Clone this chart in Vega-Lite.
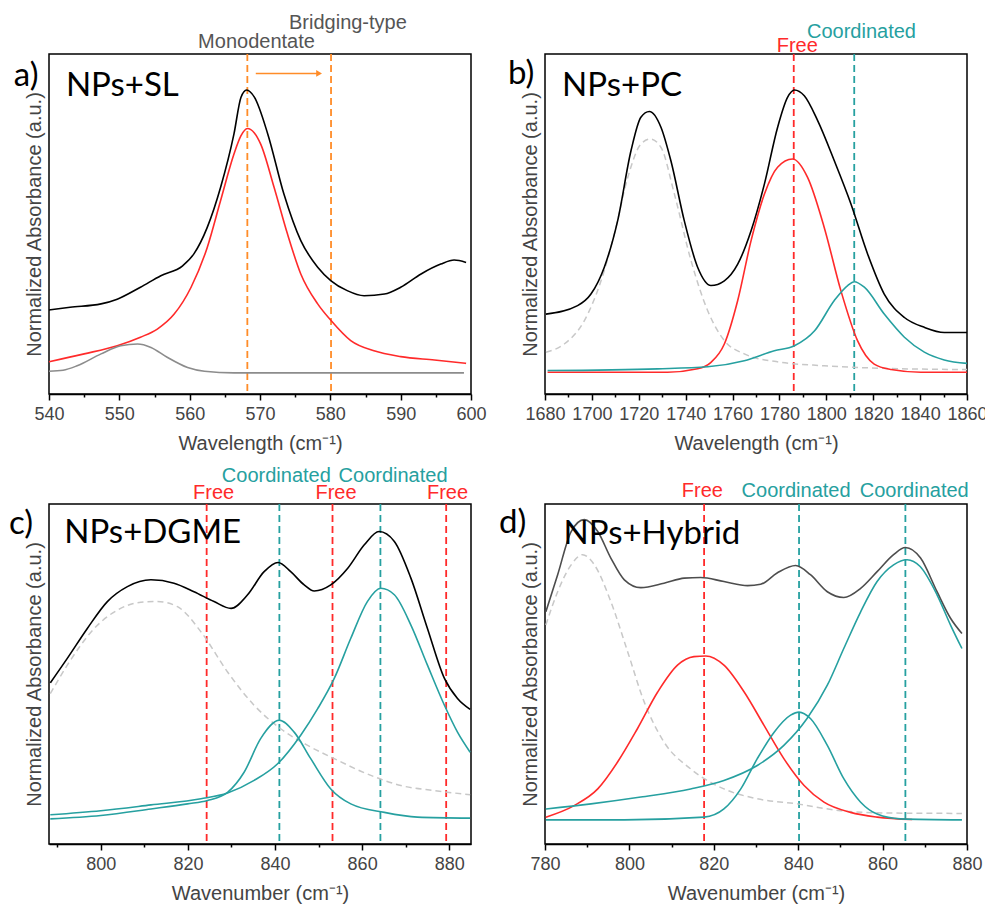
{
"$schema":"https://vega.github.io/schema/vega-lite/v6.json",
"background":"white",
"padding":{"left":8,"top":12,"right":0,"bottom":0},
"columns":2,
"bounds":"flush",
"spacing":{"row":110,"column":74},
"config":{
 "view":{"stroke":"#000","strokeWidth":1.5},
 "font":"Arial",
 "axis":{"labelFont":"Arial","titleFont":"Arial","labelFontSize":18,"titleFontSize":20,"labelColor":"#444","titleColor":"#444","titleFontWeight":"normal","domainColor":"#000","tickColor":"#000","grid":false,"domainWidth":1.5,"tickWidth":1.5},
 "line":{"strokeWidth":1.6},
 "text":{"font":"Arial"}
},
"datasets":{
 "a_c":[
  {"c":"total","id":"t","x":540,"y":0.247},{"c":"total","id":"t","x":543,"y":0.255},{"c":"total","id":"t","x":547.4,"y":0.265},{"c":"total","id":"t","x":549.7,"y":0.279},{"c":"total","id":"t","x":553,"y":0.314},{"c":"total","id":"t","x":555.9,"y":0.348},{"c":"total","id":"t","x":559,"y":0.377},{"c":"total","id":"t","x":560.6,"y":0.412},{"c":"total","id":"t","x":562.5,"y":0.49},{"c":"total","id":"t","x":564.4,"y":0.608},{"c":"total","id":"t","x":566.3,"y":0.765},{"c":"total","id":"t","x":567.3,"y":0.873},{"c":"total","id":"t","x":568.1,"y":0.894},{"c":"total","id":"t","x":569.2,"y":0.873},{"c":"total","id":"t","x":571.1,"y":0.765},{"c":"total","id":"t","x":573.4,"y":0.588},{"c":"total","id":"t","x":575.8,"y":0.451},{"c":"total","id":"t","x":578.2,"y":0.373},{"c":"total","id":"t","x":580.1,"y":0.333},{"c":"total","id":"t","x":582.4,"y":0.304},{"c":"total","id":"t","x":584.8,"y":0.289},{"c":"total","id":"t","x":587.7,"y":0.294},{"c":"total","id":"t","x":590,"y":0.314},{"c":"total","id":"t","x":592.9,"y":0.353},{"c":"total","id":"t","x":595.7,"y":0.382},{"c":"total","id":"t","x":597.6,"y":0.394},{"c":"total","id":"t","x":599.3,"y":0.387},
  {"c":"red","id":"r","x":540,"y":0.095},{"c":"red","id":"r","x":545,"y":0.118},{"c":"red","id":"r","x":549.7,"y":0.142},{"c":"red","id":"r","x":553,"y":0.167},{"c":"red","id":"r","x":555.4,"y":0.191},{"c":"red","id":"r","x":557.8,"y":0.235},{"c":"red","id":"r","x":560.2,"y":0.314},{"c":"red","id":"r","x":562.5,"y":0.431},{"c":"red","id":"r","x":564.4,"y":0.569},{"c":"red","id":"r","x":566.3,"y":0.706},{"c":"red","id":"r","x":567.3,"y":0.76},{"c":"red","id":"r","x":568.2,"y":0.781},{"c":"red","id":"r","x":569.2,"y":0.768},{"c":"red","id":"r","x":570.1,"y":0.735},{"c":"red","id":"r","x":572,"y":0.608},{"c":"red","id":"r","x":573.9,"y":0.471},{"c":"red","id":"r","x":575.8,"y":0.353},{"c":"red","id":"r","x":578.2,"y":0.265},{"c":"red","id":"r","x":580.1,"y":0.216},{"c":"red","id":"r","x":582.9,"y":0.157},{"c":"red","id":"r","x":586.2,"y":0.127},{"c":"red","id":"r","x":590,"y":0.11},{"c":"red","id":"r","x":594.8,"y":0.1},{"c":"red","id":"r","x":599.3,"y":0.09},
  {"c":"sub","id":"g","x":540,"y":0.067},{"c":"sub","id":"g","x":542,"y":0.07},{"c":"sub","id":"g","x":544,"y":0.083},{"c":"sub","id":"g","x":547.4,"y":0.118},{"c":"sub","id":"g","x":550.2,"y":0.142},{"c":"sub","id":"g","x":552.6,"y":0.147},{"c":"sub","id":"g","x":554.5,"y":0.137},{"c":"sub","id":"g","x":556.8,"y":0.108},{"c":"sub","id":"g","x":559.7,"y":0.078},{"c":"sub","id":"g","x":562.1,"y":0.067},{"c":"sub","id":"g","x":566.3,"y":0.062},{"c":"sub","id":"g","x":599,"y":0.062}
 ],
 "a_v":[{"c":"orange","x":568.2},{"c":"orange","x":580.1}],
 "a_arrow":[{"c":"orange","x":569.4,"x2":578.4,"y":0.943}],
 "a_head":[{"c":"orange","x":578.4,"y":0.943}],
 "a_t":[{"c":"gray","x":569.5,"y":1.035,"t":"Monodentate"},{"c":"gray","x":582.5,"y":1.09,"t":"Bridging-type"}],
 "a_b":[{"c":"total","x":542.4,"y":0.907,"t":"NPs+SL"},{"c":"total","x":535.0,"y":0.935,"t":"a)"}],
 "b_c":[
  {"c":"total","id":"t","x":1680.4,"y":0.235},{"c":"total","id":"t","x":1693.9,"y":0.26},{"c":"total","id":"t","x":1699.6,"y":0.294},{"c":"total","id":"t","x":1705.3,"y":0.373},{"c":"total","id":"t","x":1711,"y":0.51},{"c":"total","id":"t","x":1716.7,"y":0.716},{"c":"total","id":"t","x":1720.9,"y":0.814},{"c":"total","id":"t","x":1724.5,"y":0.831},{"c":"total","id":"t","x":1729.5,"y":0.784},{"c":"total","id":"t","x":1733.7,"y":0.686},{"c":"total","id":"t","x":1739.4,"y":0.51},{"c":"total","id":"t","x":1745.1,"y":0.373},{"c":"total","id":"t","x":1750.8,"y":0.319},{"c":"total","id":"t","x":1756.5,"y":0.333},{"c":"total","id":"t","x":1762.2,"y":0.382},{"c":"total","id":"t","x":1767.9,"y":0.48},{"c":"total","id":"t","x":1773.6,"y":0.618},{"c":"total","id":"t","x":1779.2,"y":0.784},{"c":"total","id":"t","x":1783.5,"y":0.873},{"c":"total","id":"t","x":1786.4,"y":0.894},{"c":"total","id":"t","x":1790.6,"y":0.877},{"c":"total","id":"t","x":1796.3,"y":0.804},{"c":"total","id":"t","x":1803.4,"y":0.686},{"c":"total","id":"t","x":1810.5,"y":0.559},{"c":"total","id":"t","x":1817.6,"y":0.412},{"c":"total","id":"t","x":1824.7,"y":0.294},{"c":"total","id":"t","x":1833.3,"y":0.225},{"c":"total","id":"t","x":1841.8,"y":0.196},{"c":"total","id":"t","x":1850.3,"y":0.181},{"c":"total","id":"t","x":1860,"y":0.181},
  {"c":"red","id":"r","x":1681.1,"y":0.064},{"c":"red","id":"r","x":1732.3,"y":0.064},{"c":"red","id":"r","x":1745.1,"y":0.074},{"c":"red","id":"r","x":1750.8,"y":0.093},{"c":"red","id":"r","x":1756.5,"y":0.147},{"c":"red","id":"r","x":1762.2,"y":0.275},{"c":"red","id":"r","x":1767.9,"y":0.451},{"c":"red","id":"r","x":1773.6,"y":0.588},{"c":"red","id":"r","x":1779.2,"y":0.667},{"c":"red","id":"r","x":1785.6,"y":0.691},{"c":"red","id":"r","x":1792,"y":0.637},{"c":"red","id":"r","x":1799.1,"y":0.49},{"c":"red","id":"r","x":1806.2,"y":0.304},{"c":"red","id":"r","x":1813.3,"y":0.157},{"c":"red","id":"r","x":1820.4,"y":0.088},{"c":"red","id":"r","x":1827.6,"y":0.072},{"c":"red","id":"r","x":1840.3,"y":0.064},{"c":"red","id":"r","x":1860,"y":0.064},
  {"c":"teal","id":"k","x":1681.1,"y":0.069},{"c":"teal","id":"k","x":1728.1,"y":0.074},{"c":"teal","id":"k","x":1749.4,"y":0.08},{"c":"teal","id":"k","x":1765,"y":0.098},{"c":"teal","id":"k","x":1777.8,"y":0.127},{"c":"teal","id":"k","x":1786.4,"y":0.142},{"c":"teal","id":"k","x":1795,"y":0.186},{"c":"teal","id":"k","x":1803.4,"y":0.275},{"c":"teal","id":"k","x":1809.1,"y":0.319},{"c":"teal","id":"k","x":1811.9,"y":0.33},{"c":"teal","id":"k","x":1816.2,"y":0.314},{"c":"teal","id":"k","x":1824.7,"y":0.235},{"c":"teal","id":"k","x":1833.3,"y":0.167},{"c":"teal","id":"k","x":1841.8,"y":0.123},{"c":"teal","id":"k","x":1850.3,"y":0.1},{"c":"teal","id":"k","x":1860,"y":0.09}
 ],
 "b_d":[
  {"c":"bg","x":1680.4,"y":0.123},{"c":"bg","x":1688.2,"y":0.147},{"c":"bg","x":1696.8,"y":0.216},{"c":"bg","x":1703.9,"y":0.333},{"c":"bg","x":1709.6,"y":0.471},{"c":"bg","x":1715.3,"y":0.637},{"c":"bg","x":1720.9,"y":0.735},{"c":"bg","x":1724.9,"y":0.75},{"c":"bg","x":1729.5,"y":0.725},{"c":"bg","x":1735.2,"y":0.588},{"c":"bg","x":1742.3,"y":0.392},{"c":"bg","x":1749.4,"y":0.245},{"c":"bg","x":1756.5,"y":0.157},{"c":"bg","x":1765,"y":0.118},{"c":"bg","x":1777.8,"y":0.096},{"c":"bg","x":1799.1,"y":0.083},{"c":"bg","x":1827.6,"y":0.075},{"c":"bg","x":1860,"y":0.072}
 ],
 "b_v":[{"c":"red","x":1786.1},{"c":"teal","x":1811.9}],
 "b_t":[{"c":"red","x":1787.6,"y":1.024,"t":"Free"},{"c":"teal","x":1815,"y":1.065,"t":"Coordinated"}],
 "b_b":[{"c":"total","x":1687.3,"y":0.907,"t":"NPs+PC"},{"c":"total","x":1664.2,"y":0.94,"t":"b)"}],
 "c_c":[
  {"c":"total","id":"t","x":788.4,"y":0.474},{"c":"total","id":"t","x":792.3,"y":0.546},{"c":"total","id":"t","x":796.9,"y":0.634},{"c":"total","id":"t","x":801.5,"y":0.713},{"c":"total","id":"t","x":806.1,"y":0.757},{"c":"total","id":"t","x":811.5,"y":0.777},{"c":"total","id":"t","x":816.8,"y":0.767},{"c":"total","id":"t","x":821.4,"y":0.742},{"c":"total","id":"t","x":826,"y":0.713},{"c":"total","id":"t","x":829.9,"y":0.693},{"c":"total","id":"t","x":833.7,"y":0.733},{"c":"total","id":"t","x":837.5,"y":0.801},{"c":"total","id":"t","x":840.7,"y":0.828},{"c":"total","id":"t","x":843.6,"y":0.801},{"c":"total","id":"t","x":846.7,"y":0.762},{"c":"total","id":"t","x":849,"y":0.744},{"c":"total","id":"t","x":852.8,"y":0.762},{"c":"total","id":"t","x":856.7,"y":0.811},{"c":"total","id":"t","x":860.5,"y":0.88},{"c":"total","id":"t","x":863.9,"y":0.919},{"c":"total","id":"t","x":867.4,"y":0.89},{"c":"total","id":"t","x":871.2,"y":0.782},{"c":"total","id":"t","x":875,"y":0.634},{"c":"total","id":"t","x":878.9,"y":0.487},{"c":"total","id":"t","x":881.9,"y":0.428},{"c":"total","id":"t","x":884.8,"y":0.396},
  {"c":"teal","id":"k1","x":788.4,"y":0.074},{"c":"teal","id":"k1","x":800,"y":0.084},{"c":"teal","id":"k1","x":811.5,"y":0.103},{"c":"teal","id":"k1","x":819.9,"y":0.118},{"c":"teal","id":"k1","x":824.5,"y":0.128},{"c":"teal","id":"k1","x":829.1,"y":0.152},{"c":"teal","id":"k1","x":832.9,"y":0.211},{"c":"teal","id":"k1","x":836.7,"y":0.31},{"c":"teal","id":"k1","x":841,"y":0.364},{"c":"teal","id":"k1","x":844.4,"y":0.329},{"c":"teal","id":"k1","x":848.2,"y":0.251},{"c":"teal","id":"k1","x":852.8,"y":0.162},{"c":"teal","id":"k1","x":857.4,"y":0.118},{"c":"teal","id":"k1","x":865.1,"y":0.093},{"c":"teal","id":"k1","x":872.7,"y":0.079},{"c":"teal","id":"k1","x":884.8,"y":0.076},
  {"c":"teal","id":"k2","x":788.4,"y":0.086},{"c":"teal","id":"k2","x":800,"y":0.098},{"c":"teal","id":"k2","x":811.5,"y":0.115},{"c":"teal","id":"k2","x":823,"y":0.133},{"c":"teal","id":"k2","x":829.1,"y":0.15},{"c":"teal","id":"k2","x":835.2,"y":0.187},{"c":"teal","id":"k2","x":840.6,"y":0.236},{"c":"teal","id":"k2","x":845.9,"y":0.32},{"c":"teal","id":"k2","x":849.8,"y":0.398},{"c":"teal","id":"k2","x":853.6,"y":0.487},{"c":"teal","id":"k2","x":857.4,"y":0.605},{"c":"teal","id":"k2","x":861.2,"y":0.713},{"c":"teal","id":"k2","x":864.3,"y":0.752},{"c":"teal","id":"k2","x":867.4,"y":0.733},{"c":"teal","id":"k2","x":871.2,"y":0.644},{"c":"teal","id":"k2","x":875,"y":0.526},{"c":"teal","id":"k2","x":878.9,"y":0.408},{"c":"teal","id":"k2","x":881.9,"y":0.329},{"c":"teal","id":"k2","x":884.8,"y":0.27}
 ],
 "c_d":[
  {"c":"bg","x":788.4,"y":0.442},{"c":"bg","x":792.3,"y":0.526},{"c":"bg","x":798.5,"y":0.634},{"c":"bg","x":803.8,"y":0.688},{"c":"bg","x":809.2,"y":0.711},{"c":"bg","x":813,"y":0.713},{"c":"bg","x":817.6,"y":0.698},{"c":"bg","x":823,"y":0.624},{"c":"bg","x":829.1,"y":0.506},{"c":"bg","x":835.2,"y":0.408},{"c":"bg","x":841.3,"y":0.339},{"c":"bg","x":847.5,"y":0.29},{"c":"bg","x":853.6,"y":0.251},{"c":"bg","x":861.2,"y":0.206},{"c":"bg","x":868.9,"y":0.172},{"c":"bg","x":876.6,"y":0.157},{"c":"bg","x":884.8,"y":0.145}
 ],
 "c_v":[{"c":"red","x":824.3},{"c":"teal","x":841},{"c":"red","x":853.2},{"c":"teal","x":864.2},{"c":"red","x":879.3}],
 "c_t":[{"c":"red","x":825.9,"y":1.031,"t":"Free"},{"c":"red","x":854,"y":1.031,"t":"Free"},{"c":"red","x":879.6,"y":1.031,"t":"Free"},{"c":"teal","x":840.3,"y":1.083,"t":"Coordinated"},{"c":"teal","x":867.1,"y":1.083,"t":"Coordinated"}],
 "c_b":[{"c":"total","x":791.6,"y":0.916,"t":"NPs+DGME"},{"c":"total","x":778.9,"y":0.941,"t":"c)"}],
 "d_c":[
  {"c":"totald","id":"t","x":780.2,"y":0.683},{"c":"totald","id":"t","x":783,"y":0.792},{"c":"totald","id":"t","x":786.2,"y":0.919},{"c":"totald","id":"t","x":789.3,"y":0.954},{"c":"totald","id":"t","x":792.5,"y":0.919},{"c":"totald","id":"t","x":795.6,"y":0.841},{"c":"totald","id":"t","x":798.8,"y":0.777},{"c":"totald","id":"t","x":802.7,"y":0.754},{"c":"totald","id":"t","x":808.2,"y":0.767},{"c":"totald","id":"t","x":813,"y":0.782},{"c":"totald","id":"t","x":816.9,"y":0.784},{"c":"totald","id":"t","x":822.4,"y":0.772},{"c":"totald","id":"t","x":828,"y":0.76},{"c":"totald","id":"t","x":831.1,"y":0.764},{"c":"totald","id":"t","x":835,"y":0.797},{"c":"totald","id":"t","x":839.4,"y":0.819},{"c":"totald","id":"t","x":842.9,"y":0.792},{"c":"totald","id":"t","x":846.9,"y":0.742},{"c":"totald","id":"t","x":850.8,"y":0.725},{"c":"totald","id":"t","x":854.8,"y":0.752},{"c":"totald","id":"t","x":858.7,"y":0.801},{"c":"totald","id":"t","x":862.6,"y":0.851},{"c":"totald","id":"t","x":865.4,"y":0.872},{"c":"totald","id":"t","x":869,"y":0.841},{"c":"totald","id":"t","x":872.9,"y":0.742},{"c":"totald","id":"t","x":876.1,"y":0.664},{"c":"totald","id":"t","x":878.8,"y":0.619},
  {"c":"red","id":"r","x":780.2,"y":0.079},{"c":"red","id":"r","x":786.9,"y":0.113},{"c":"red","id":"r","x":792.5,"y":0.162},{"c":"red","id":"r","x":797.2,"y":0.241},{"c":"red","id":"r","x":801.9,"y":0.339},{"c":"red","id":"r","x":806.7,"y":0.447},{"c":"red","id":"r","x":811.4,"y":0.526},{"c":"red","id":"r","x":815.3,"y":0.551},{"c":"red","id":"r","x":818.1,"y":0.553},{"c":"red","id":"r","x":822.4,"y":0.526},{"c":"red","id":"r","x":827.2,"y":0.447},{"c":"red","id":"r","x":831.9,"y":0.349},{"c":"red","id":"r","x":836.6,"y":0.251},{"c":"red","id":"r","x":841.4,"y":0.172},{"c":"red","id":"r","x":846.1,"y":0.123},{"c":"red","id":"r","x":852.4,"y":0.093},{"c":"red","id":"r","x":858.7,"y":0.079},{"c":"red","id":"r","x":867,"y":0.072},
  {"c":"teal","id":"k1","x":780.2,"y":0.071},{"c":"teal","id":"k1","x":798.8,"y":0.071},{"c":"teal","id":"k1","x":817.7,"y":0.079},{"c":"teal","id":"k1","x":822.4,"y":0.103},{"c":"teal","id":"k1","x":826.4,"y":0.162},{"c":"teal","id":"k1","x":830.3,"y":0.251},{"c":"teal","id":"k1","x":834.3,"y":0.329},{"c":"teal","id":"k1","x":838.2,"y":0.379},{"c":"teal","id":"k1","x":840.2,"y":0.388},{"c":"teal","id":"k1","x":842.9,"y":0.369},{"c":"teal","id":"k1","x":846.9,"y":0.29},{"c":"teal","id":"k1","x":850.8,"y":0.192},{"c":"teal","id":"k1","x":854.8,"y":0.123},{"c":"teal","id":"k1","x":858.7,"y":0.088},{"c":"teal","id":"k1","x":864.2,"y":0.074},{"c":"teal","id":"k1","x":878.8,"y":0.071},
  {"c":"teal","id":"k2","x":780.2,"y":0.103},{"c":"teal","id":"k2","x":790.9,"y":0.118},{"c":"teal","id":"k2","x":802.7,"y":0.138},{"c":"teal","id":"k2","x":814.5,"y":0.162},{"c":"teal","id":"k2","x":822.4,"y":0.187},{"c":"teal","id":"k2","x":830.3,"y":0.231},{"c":"teal","id":"k2","x":836.6,"y":0.29},{"c":"teal","id":"k2","x":842.1,"y":0.369},{"c":"teal","id":"k2","x":846.9,"y":0.467},{"c":"teal","id":"k2","x":850.8,"y":0.575},{"c":"teal","id":"k2","x":854.8,"y":0.683},{"c":"teal","id":"k2","x":858.7,"y":0.772},{"c":"teal","id":"k2","x":862.6,"y":0.821},{"c":"teal","id":"k2","x":865.8,"y":0.836},{"c":"teal","id":"k2","x":868.9,"y":0.816},{"c":"teal","id":"k2","x":872.9,"y":0.733},{"c":"teal","id":"k2","x":876.1,"y":0.644},{"c":"teal","id":"k2","x":878.8,"y":0.575}
 ],
 "d_d":[
  {"c":"bg","x":780.2,"y":0.644},{"c":"bg","x":783,"y":0.742},{"c":"bg","x":786.2,"y":0.821},{"c":"bg","x":788.9,"y":0.851},{"c":"bg","x":791.7,"y":0.821},{"c":"bg","x":795.6,"y":0.713},{"c":"bg","x":799.6,"y":0.565},{"c":"bg","x":803.5,"y":0.418},{"c":"bg","x":808.2,"y":0.3},{"c":"bg","x":814.5,"y":0.221},{"c":"bg","x":822.4,"y":0.162},{"c":"bg","x":830.3,"y":0.133},{"c":"bg","x":839.8,"y":0.118},{"c":"bg","x":850,"y":0.098},{"c":"bg","x":861.9,"y":0.091},{"c":"bg","x":878.8,"y":0.09}
 ],
 "d_v":[{"c":"red","x":817.7},{"c":"teal","x":840.2},{"c":"teal","x":865.4}],
 "d_t":[{"c":"red","x":817.3,"y":1.039,"t":"Free"},{"c":"teal","x":839.5,"y":1.037,"t":"Coordinated"},{"c":"teal","x":867.5,"y":1.037,"t":"Coordinated"}],
 "d_b":[{"c":"total","x":784.4,"y":0.912,"t":"NPs+Hybrid"},{"c":"total","x":769.1,"y":0.944,"t":"d)"}]
},
"concat":[
 {"width":422,"height":340,
  "encoding":{
   "x":{"field":"x","type":"quantitative","scale":{"domain":[540,600],"nice":false,"zero":false},
      "axis":{"title":"Wavelength (cm⁻¹)","values":[540,545,550,555,560,565,570,575,580,585,590,595,600],"labelExpr":"datum.value % 10 == 0 ? datum.label : ''","tickSize":{"condition":{"test":"datum.value % 10 == 0","value":6},"value":3},"labelPadding":5,"titlePadding":10,"labelOverlap":false,"labelFlush":false}},
   "color":{"field":"c","type":"nominal","legend":null,"scale":{"domain":["total","totald","red","teal","sub","bg","gray","orange"],"range":["#000000","#4d4d4d","#ff2a2a","#26a0a0","#8c8c8c","#c8c8c8","#555555","#ff8c28"]}}
  },
  "layer":[
   {"data":{"name":"a_v"},"mark":{"type":"rule","strokeWidth":1.8,"strokeDash":[7,4]}},
   {"data":{"name":"a_c"},"mark":{"type":"line","interpolate":"monotone"},
    "encoding":{"y":{"field":"y","type":"quantitative","scale":{"domain":[0,1],"nice":false,"zero":false},"axis":{"title":"Normalized Absorbance (a.u.)","labels":false,"ticks":false,"domain":false,"titlePadding":5}},"detail":{"field":"id"}}},
   {"data":{"name":"a_arrow"},"mark":{"type":"rule","strokeWidth":1.5},
    "encoding":{"x2":{"field":"x2"},"y":{"field":"y","type":"quantitative"}}},
   {"data":{"name":"a_head"},"mark":{"type":"point","shape":"triangle-right","filled":true,"size":45,"opacity":1},
    "encoding":{"y":{"field":"y","type":"quantitative"}}},
   {"data":{"name":"a_t"},"mark":{"type":"text","fontSize":20,"font":"Arial","baseline":"middle"},
    "encoding":{"y":{"field":"y","type":"quantitative"},"text":{"field":"t"}}},
   {"data":{"name":"a_b"},"mark":{"type":"text","fontSize":33,"font":"Lato","align":"left","baseline":"middle"},
    "encoding":{"y":{"field":"y","type":"quantitative"},"text":{"field":"t"}}}
  ]},
 {"width":422,"height":340,
  "encoding":{
   "x":{"field":"x","type":"quantitative","scale":{"domain":[1680,1860],"nice":false,"zero":false},
      "axis":{"title":"Wavelength (cm⁻¹)","values":[1680,1690,1700,1710,1720,1730,1740,1750,1760,1770,1780,1790,1800,1810,1820,1830,1840,1850,1860],"labelExpr":"datum.value % 20 == 0 ? datum.label : ''","tickSize":{"condition":{"test":"datum.value % 20 == 0","value":6},"value":3},"labelPadding":5,"titlePadding":10,"labelOverlap":false,"labelFlush":false,"format":"d"}},
   "color":{"field":"c","type":"nominal","legend":null}
  },
  "layer":[
   {"data":{"name":"b_v"},"mark":{"type":"rule","strokeWidth":1.8,"strokeDash":[7,4]}},
   {"data":{"name":"b_d"},"mark":{"type":"line","interpolate":"monotone","strokeDash":[6,4],"strokeWidth":1.5},
    "encoding":{"y":{"field":"y","type":"quantitative","scale":{"domain":[0,1],"nice":false,"zero":false},"axis":{"title":"Normalized Absorbance (a.u.)","labels":false,"ticks":false,"domain":false,"titlePadding":5}}}},
   {"data":{"name":"b_c"},"mark":{"type":"line","interpolate":"monotone"},
    "encoding":{"y":{"field":"y","type":"quantitative"},"detail":{"field":"id"}}},
   {"data":{"name":"b_t"},"mark":{"type":"text","fontSize":20,"font":"Arial","baseline":"middle"},
    "encoding":{"y":{"field":"y","type":"quantitative"},"text":{"field":"t"}}},
   {"data":{"name":"b_b"},"mark":{"type":"text","fontSize":33,"font":"Lato","align":"left","baseline":"middle"},
    "encoding":{"y":{"field":"y","type":"quantitative"},"text":{"field":"t"}}}
  ]},
 {"width":422,"height":340,
  "encoding":{
   "x":{"field":"x","type":"quantitative","scale":{"domain":[788.1,885],"nice":false,"zero":false},
      "axis":{"title":"Wavenumber (cm⁻¹)","values":[790,800,810,820,830,840,850,860,870,880],"labelExpr":"datum.value % 20 == 0 ? datum.label : ''","tickSize":{"condition":{"test":"datum.value % 20 == 0","value":6},"value":3},"labelPadding":5,"titlePadding":10,"labelOverlap":false,"labelFlush":false}},
   "color":{"field":"c","type":"nominal","legend":null}
  },
  "layer":[
   {"data":{"name":"c_v"},"mark":{"type":"rule","strokeWidth":1.8,"strokeDash":[7,4]}},
   {"data":{"name":"c_d"},"mark":{"type":"line","interpolate":"monotone","strokeDash":[6,4],"strokeWidth":1.5},
    "encoding":{"y":{"field":"y","type":"quantitative","scale":{"domain":[0,1],"nice":false,"zero":false},"axis":{"title":"Normalized Absorbance (a.u.)","labels":false,"ticks":false,"domain":false,"titlePadding":5}}}},
   {"data":{"name":"c_c"},"mark":{"type":"line","interpolate":"monotone"},
    "encoding":{"y":{"field":"y","type":"quantitative"},"detail":{"field":"id"}}},
   {"data":{"name":"c_t"},"mark":{"type":"text","fontSize":20,"font":"Arial","baseline":"middle"},
    "encoding":{"y":{"field":"y","type":"quantitative"},"text":{"field":"t"}}},
   {"data":{"name":"c_b"},"mark":{"type":"text","fontSize":33,"font":"Lato","align":"left","baseline":"middle"},
    "encoding":{"y":{"field":"y","type":"quantitative"},"text":{"field":"t"}}}
  ]},
 {"width":422,"height":340,
  "encoding":{
   "x":{"field":"x","type":"quantitative","scale":{"domain":[780,880],"nice":false,"zero":false},
      "axis":{"title":"Wavenumber (cm⁻¹)","values":[780,790,800,810,820,830,840,850,860,870,880],"labelExpr":"datum.value % 20 == 0 ? datum.label : ''","tickSize":{"condition":{"test":"datum.value % 20 == 0","value":6},"value":3},"labelPadding":5,"titlePadding":10,"labelOverlap":false,"labelFlush":false}},
   "color":{"field":"c","type":"nominal","legend":null}
  },
  "layer":[
   {"data":{"name":"d_v"},"mark":{"type":"rule","strokeWidth":1.8,"strokeDash":[7,4]}},
   {"data":{"name":"d_d"},"mark":{"type":"line","interpolate":"monotone","strokeDash":[6,4],"strokeWidth":1.5},
    "encoding":{"y":{"field":"y","type":"quantitative","scale":{"domain":[0,1],"nice":false,"zero":false},"axis":{"title":"Normalized Absorbance (a.u.)","labels":false,"ticks":false,"domain":false,"titlePadding":5}}}},
   {"data":{"name":"d_c"},"mark":{"type":"line","interpolate":"monotone"},
    "encoding":{"y":{"field":"y","type":"quantitative"},"detail":{"field":"id"}}},
   {"data":{"name":"d_t"},"mark":{"type":"text","fontSize":20,"font":"Arial","baseline":"middle"},
    "encoding":{"y":{"field":"y","type":"quantitative"},"text":{"field":"t"}}},
   {"data":{"name":"d_b"},"mark":{"type":"text","fontSize":33,"font":"Lato","align":"left","baseline":"middle"},
    "encoding":{"y":{"field":"y","type":"quantitative"},"text":{"field":"t"}}}
  ]}
]
}
